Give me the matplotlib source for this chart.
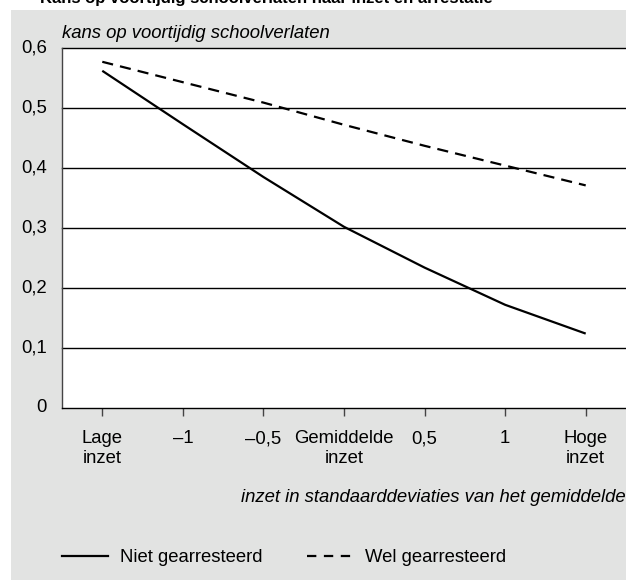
import matplotlib
matplotlib.use("Agg")
import matplotlib.pyplot as plt
import matplotlib.transforms as mtransforms
from matplotlib.patches import Rectangle
from matplotlib.lines import Line2D

plt.rcParams['font.family'] = ['Liberation Sans', 'DejaVu Sans']

# ---- data ----
x_pos = [-1.5, -1, -0.5, 0, 0.5, 1, 1.5]
x_labels = ['Lage\ninzet', '–1', '–0,5', 'Gemiddelde\ninzet', '0,5', '1', 'Hoge\ninzet']
niet_gearresteerd = [0.562, 0.473, 0.385, 0.302, 0.234, 0.172, 0.124]
wel_gearresteerd = [0.577, 0.543, 0.509, 0.472, 0.437, 0.404, 0.371]
y_ticks = [0, 0.1, 0.2, 0.3, 0.4, 0.5, 0.6]
y_labels = ['0', '0,1', '0,2', '0,3', '0,4', '0,5', '0,6']
series_names = ['Niet gearresteerd', 'Wel gearresteerd']

W, H = 626, 580
FS = 13.3
fig = plt.figure(figsize=(W / 100, H / 100), dpi=100)
fig.patch.set_facecolor('white')

grey = '#e2e3e2'
fig.add_artist(Rectangle((11 / W, 0), 1 - 11 / W, 1 - 10 / H, transform=fig.transFigure,
                         facecolor=grey, edgecolor='none', zorder=0))

# title, mostly cut off at the top edge as in the reference
fig.text(40 / W, 1 - 3 / H, 'Kans op voortijdig schoolverlaten naar inzet en arrestatie',
         fontsize=12, fontweight='bold', ha='left', va='baseline', color='black')

ax = fig.add_axes([62 / W, (H - 408) / H, (W - 62) / W, 360 / H])
ax.set_facecolor('white')
ax.set_xlim(-1.75, 1.75)
ax.set_ylim(0, 0.6)

for yv in y_ticks[1:]:
    ax.axhline(yv, color='black', lw=1.0, zorder=1, clip_on=False)

dash = (0, (5, 3.2))
ax.plot(x_pos, niet_gearresteerd, color='black', lw=1.6, solid_capstyle='butt', zorder=3)
ax.plot(x_pos, wel_gearresteerd, color='black', lw=1.6, linestyle=dash, dash_capstyle='butt', zorder=3)

for s in ['top', 'right']:
    ax.spines[s].set_visible(False)
ax.spines['left'].set_color('#444444')
ax.spines['left'].set_linewidth(1.0)
ax.spines['bottom'].set_color('black')
ax.spines['bottom'].set_linewidth(1.0)

ax.set_xticks(x_pos)
ax.set_xticklabels(x_labels, fontsize=FS, linespacing=1.2)
ax.tick_params(axis='x', direction='out', length=6, width=1, color='#444444', pad=10)
ax.set_yticks(y_ticks)
ax.set_yticklabels(y_labels, fontsize=FS)
ax.tick_params(axis='y', length=0, pad=11)
offset = mtransforms.ScaledTranslation(0, 2 / 100, fig.dpi_scale_trans)
for lbl in ax.get_yticklabels():
    lbl.set_transform(lbl.get_transform() + offset)

fig.text(62 / W, (H - 38) / H, 'kans op voortijdig schoolverlaten', fontsize=FS,
         fontstyle='italic', ha='left', va='baseline')
fig.text(0.999, (H - 497) / H, 'inzet in standaarddeviaties van het gemiddelde', fontsize=FS,
         fontstyle='italic', ha='right', va='center')

handles = [Line2D([], [], color='black', lw=1.6),
           Line2D([], [], color='black', lw=1.6, linestyle=(0, (4.2, 3.4)))]
fig.legend(handles, series_names, loc='center left', bbox_to_anchor=(62 / W, 22 / H),
           ncol=2, frameon=False, fontsize=FS, handlelength=2.5, handletextpad=0.65,
           columnspacing=2.4, borderpad=0, borderaxespad=0)

fig.savefig('out.png', dpi=100, facecolor='white')
